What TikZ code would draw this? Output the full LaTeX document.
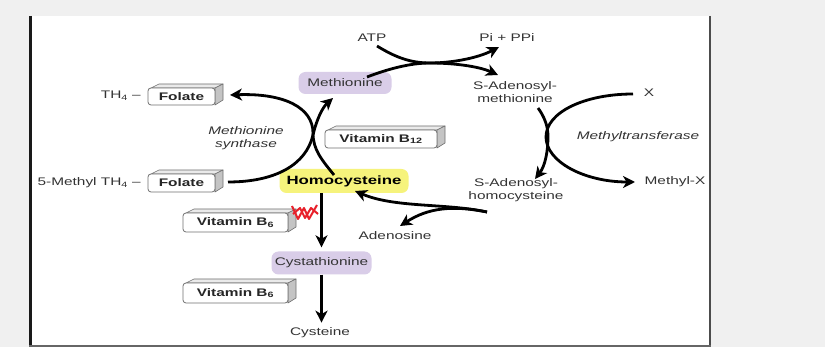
\documentclass[tikz,border=0pt]{standalone}
\usepackage{fontspec}
\setmainfont{Liberation Sans}[FakeStretch=1.4]
\usetikzlibrary{arrows.meta}
\definecolor{pagebg}{HTML}{F0F0F0}
\definecolor{txt}{HTML}{333333}
\definecolor{lav}{HTML}{D9CDE8}
\definecolor{hyel}{HTML}{F6F37C}
\definecolor{boxline}{HTML}{707070}
\definecolor{sidegray}{HTML}{C4C4C4}
\definecolor{topgray}{HTML}{EAEAEA}
\definecolor{redmark}{HTML}{E8202A}
\newcommand\cubebox[6]{%
  \pgfmathsetmacro\bxl{#2-#4/2}\pgfmathsetmacro\bxr{#2+#4/2}%
  \pgfmathsetmacro\byt{#3-#5/2}\pgfmathsetmacro\byb{#3+#5/2}%
  \filldraw[fill=topgray,draw=boxline,line width=0.6pt,line join=round]
    (\bxl+3,\byt) -- (\bxl+3+8,\byt-4) -- (\bxr+8,\byt-4) -- (\bxr,\byt) -- cycle;
  \filldraw[fill=sidegray,draw=boxline,line width=0.6pt,line join=round]
    (\bxr,\byt) -- (\bxr+8,\byt-4) -- (\bxr+8,\byb-5) -- (\bxr,\byb) -- cycle;
  \node[cube,minimum width=#4pt,minimum height=#5pt] (#1) at (#2,#3) {#6};
}
\begin{document}
\begin{tikzpicture}[x=1pt,y=-1pt,
  lbl/.style={text=txt,font=\fontsize{11}{12.5}\selectfont,inner sep=0pt,align=center},
  enz/.style={lbl,font=\itshape\fontsize{11}{12.5}\selectfont},
  metab/.style={rounded corners=7pt,fill=lav,text=txt,inner sep=0pt,
                font=\fontsize{11}{12}\selectfont},
  cube/.style={draw=boxline,line width=0.8pt,rounded corners=3pt,fill=white,inner sep=0pt,
               text=black!85,font=\bfseries\fontsize{11}{12}\selectfont},
  arr/.style={line width=2.8pt,draw=black,
              -{Stealth[length=12pt,width=12pt,inset=3.5pt]}},
]
\useasboundingbox (0,0) rectangle (825,347);
% page and frame
\fill[pagebg] (0,0) rectangle (825,347);
\fill[white] (29,16) rectangle (710,346);
\draw[line width=3pt,black!90] (30.5,16) -- (30.5,347);
\draw[line width=2pt,black!70] (710,16) -- (710,347);
\draw[line width=1.5pt,black!60] (29,346.25) -- (711,346.25);

% metabolites
\node[metab,minimum width=93pt,minimum height=22pt] (met) at (345,83) {Methionine};
\node[metab,fill=hyel,text=black,minimum width=129pt,minimum height=24pt,
      font=\bfseries\fontsize{12}{13}\selectfont] (hcy) at (344,181) {Homocysteine};
\node[metab,minimum width=100pt,minimum height=23pt] (cth) at (321.5,263) {Cystathionine};
\node[lbl] (cys) at (320,333) {Cysteine};
\node[lbl] (atp) at (372,38) {ATP};
\node[lbl] (pi) at (507,38) {Pi + PPi};
\node[lbl] (sam) at (515,92) {S-Adenosyl-\\methionine};
\node[lbl] (xx) at (649,93) {X};
\node[enz] (mtf) at (638,137) {Methyltransferase};
\node[lbl] (mex) at (675,182) {Methyl-X};
\node[lbl] (sah) at (516,190) {S-Adenosyl-\\homocysteine};
\node[lbl] (ado) at (395,236) {Adenosine};
\node[enz] (ms) at (246,138) {Methionine\\synthase};
\node[lbl,anchor=east] (th4) at (141,96) {TH\textsubscript{4} --};
\node[lbl,anchor=east] (mth4) at (141,183) {5-Methyl TH\textsubscript{4} --};

% 3D boxes
\cubebox{fol1}{181.5}{96.5}{67}{17}{Folate}
\cubebox{fol2}{181.5}{183}{67}{18}{Folate}
\cubebox{btw}{381}{139}{112}{18}{Vitamin B\textsubscript{12}}
\cubebox{bsa}{235.5}{222.5}{105}{19}{Vitamin B\textsubscript{6}}
\cubebox{bsb}{235.5}{293}{105}{20}{Vitamin B\textsubscript{6}}

% connector end points
\coordinate (p5m) at (228,182);
\coordinate (pmet) at (333,98);
\coordinate (phcya) at (334,175);
\coordinate (pthf) at (230,95);
\coordinate (patp) at (377,46);
\coordinate (ppi) at (499,47);
\coordinate (pmetr) at (367,77);
\coordinate (psam) at (498,75);
\coordinate (psamb) at (538,108);
\coordinate (psah) at (535,179);
\coordinate (px) at (633,94);
\coordinate (pmex) at (635,182);
\coordinate (psahl) at (487,212);
\coordinate (phcyr) at (355,191);
\coordinate (pado) at (400,226);

% methionine synthase
\draw[arr] (p5m) .. controls (275,182) and (306,165) .. (313,135)
                 .. controls (317,118) and (323,107) .. (pmet);
\draw[arr] (phcya) .. controls (322,160) and (313,150) .. (313,133)
                   .. controls (313,108) and (285,93) .. (pthf);
% ATP
\draw[arr] (patp) .. controls (395,57) and (410,63) .. (430,63)
                  .. controls (452,63) and (478,58) .. (ppi);
\draw[arr] (pmetr) .. controls (388,69) and (410,63) .. (430,63)
                   .. controls (452,63) and (478,66) .. (psam);
% methyltransferase
\draw[arr] (psamb) .. controls (544,116) and (548,126) .. (548,136)
                   .. controls (548,152) and (545,166) .. (psah);
\draw[arr] (px) .. controls (585,94) and (546,112) .. (546,137)
                .. controls (546,162) and (585,182) .. (pmex);
% adenosine
\draw[arr] (psahl) .. controls (445,203) and (395,208) .. (phcyr);
\draw[arr] (psahl) .. controls (452,205) and (428,208) .. (pado);
% trans-sulfuration
\draw[arr,shorten >=4pt] (cth.north |- hcy.south) -- (cth.north);
\draw[arr,shorten >=5pt] (cth.south) -- (cth.south |- cys.north);

% red mark
\draw[redmark,line width=2pt,line join=round]
  (292,206) -- (298,219) -- (304,208) -- (309,219) -- (317,205);
\draw[redmark,line width=2pt,line join=round]
  (293,214) -- (300,208) -- (305,218) -- (311,208) -- (318,214);
\end{tikzpicture}
\end{document}
